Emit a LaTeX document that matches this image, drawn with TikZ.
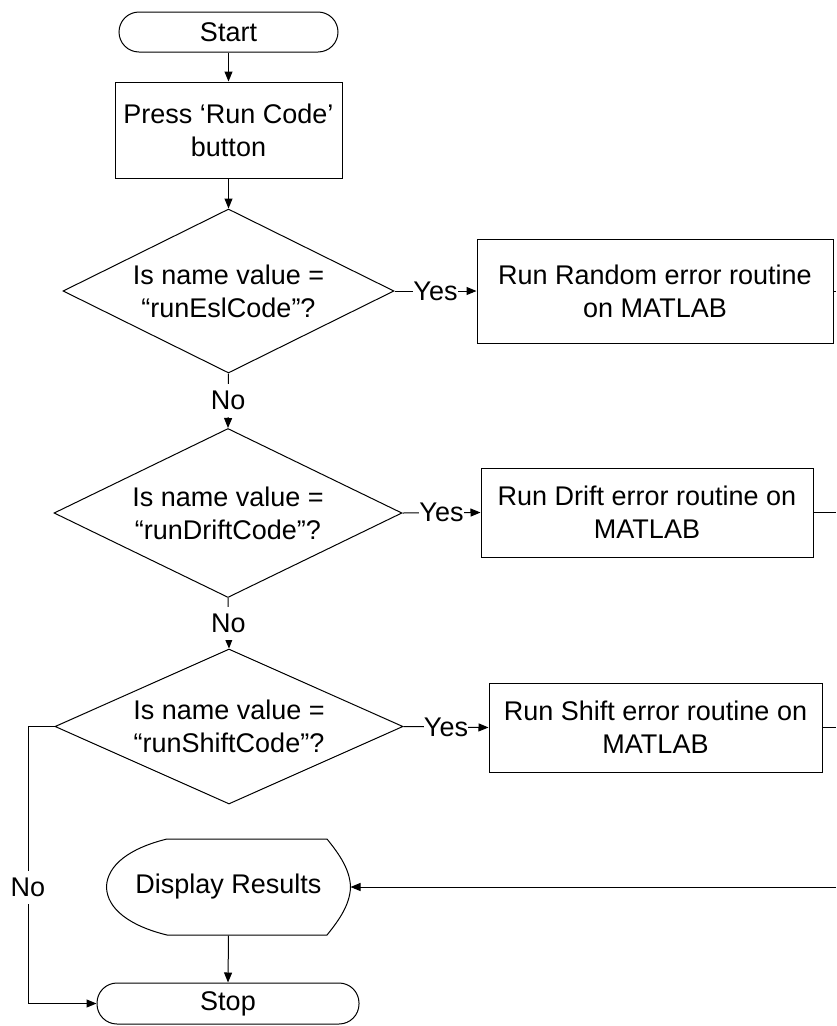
\documentclass[tikz,border=0pt]{standalone}
\usepackage{fontspec}
\setmainfont{Liberation Sans}
\usetikzlibrary{shapes.geometric,arrows.meta}
\begin{document}
\begin{tikzpicture}[x=1pt,y=-1pt, line width=1pt,
  font=\fontsize{27}{33}\selectfont,
  box/.style={draw, rectangle, inner sep=0pt, align=center},
  decision/.style={draw, diamond, aspect=2.2, inner sep=0pt, align=center},
  term/.style={draw, rectangle, rounded corners=20pt, inner sep=0pt},
  arr/.style={-{Triangle[length=10pt,width=8pt]}},
  lab/.style={fill=white, inner xsep=0pt, inner ysep=7pt}]
\useasboundingbox (0,0) rectangle (836,1026);

\node[term, minimum width=219pt, minimum height=40pt] (start) at (228.5,32) {Start};
\node[box, minimum width=227pt, minimum height=96pt] (proc) at (228.5,130) {Press ‘Run Code’\\button};
\node[decision, minimum width=331pt, minimum height=164pt] (d1) at (228.5,291) {Is name value =\\“runEslCode”?};
\node[box, minimum width=356pt, minimum height=104pt] (b1) at (655,291) {Run Random error routine\\on MATLAB};
\node[decision, minimum width=348pt, minimum height=169pt] (d2) at (228,513) {Is name value =\\“runDriftCode”?};
\node[box, minimum width=332pt, minimum height=89pt] (b2) at (647,512.5) {Run Drift error routine on\\MATLAB};
\node[decision, minimum width=348pt, minimum height=155pt] (d3) at (229,726.5) {Is name value =\\“runShiftCode”?};
\node[box, minimum width=333pt, minimum height=89pt] (b3) at (655.5,727.5) {Run Shift error routine on\\MATLAB};
\node[rectangle, minimum width=243pt, minimum height=96pt, inner sep=0pt] (disp) at (228.5,887) {Display Results};
\draw (disp.west) .. controls (107,865) and (130,848) .. (167,839) -- (327,839)
  .. controls (340,855) and (350,870) .. (disp.east)
  .. controls (350,904) and (340,919) .. (327,935) -- (167,935)
  .. controls (130,926) and (107,909) .. (disp.west) -- cycle;
\node[term, minimum width=262pt, minimum height=41pt] (stop) at (228,1003.5) {Stop};

\coordinate (r1) at (836,291);
\coordinate (r2) at (836,512.5);
\coordinate (r3) at (836,727.5);
\coordinate (r4) at (836,887);
\coordinate (lt) at (28,726.5);
\coordinate (lb) at (28,1003.5);

\draw[arr] (start.south) -- (proc.north);
\draw[arr] (proc.south) -- (d1.north);
\draw[arr] (d1.east) -- node[lab]{Yes} (b1.west);
\draw[arr] (d1.south) -- node[lab]{No} (d2.north);
\draw[arr] (d2.east) -- node[lab]{Yes} (b2.west);
\draw[arr] (d2.south) -- node[lab]{No} (d3.north);
\draw[arr] (d3.east) -- node[lab]{Yes} (b3.west);
\draw (b1.east) -- (r1);
\draw (b2.east) -- (r2);
\draw (b3.east) -- (r3);
\draw[arr] (r4) -- (disp.east);
\draw[arr] (disp.south) -- (stop.north);
\draw[arr] (d3.west) -- (lt) -- node[lab, pos=0.58]{No} (lb) -- (stop.west);
\end{tikzpicture}
\end{document}
